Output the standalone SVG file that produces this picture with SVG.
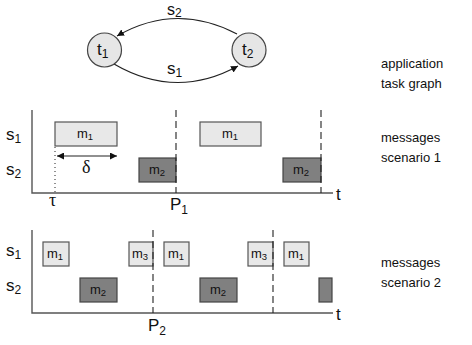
<svg xmlns="http://www.w3.org/2000/svg" width="472" height="345" viewBox="0 0 472 345">
<defs>
<style>
text{font-family:"Liberation Sans",Arial,sans-serif;fill:#111}
.lbl{font-size:17px}
.sub{font-size:12px}
.box{font-size:13px}
.bsub{font-size:9.5px}
.side{font-size:13px}
.greek{font-family:"Liberation Serif","DejaVu Serif",serif;font-size:18px}
.node{fill:#e6e6e6;stroke:#444;stroke-width:1.2}
.light{fill:#e8e8e8;stroke:#555;stroke-width:1.2}
.dark{fill:#808080;stroke:#444;stroke-width:1.2}
.axis{stroke:#555;stroke-width:1.4;fill:none}
.dash{stroke:#222;stroke-width:1.1;stroke-dasharray:7,4;fill:none}
.edge{stroke:#222;stroke-width:1.2;fill:none}
</style>
<marker id="ah" viewBox="0 0 10 10" refX="10" refY="5" markerWidth="7" markerHeight="7" markerUnits="userSpaceOnUse" orient="auto-start-reverse">
<path d="M0,0 L10,5 L0,10 z" fill="#111"/>
</marker>
</defs>

<g id="connectors">
<path class="edge" d="M237 34 Q176 2 117 36" marker-end="url(#ah)"/>
<path class="edge" d="M114 64 Q176 100 238 66" marker-end="url(#ah)"/>
<text x="167" y="15" style="font-size:16px">s<tspan class="sub" dy="2">2</tspan></text>
<text class="lbl" x="167" y="74">s<tspan class="sub" dy="3">1</tspan></text>
</g>

<g id="t1">
<circle class="node" cx="104.5" cy="50" r="17"/>
<text class="lbl" x="97" y="55">t<tspan class="sub" dy="3">1</tspan></text>
</g>
<g id="t2">
<circle class="node" cx="249" cy="50" r="17"/>
<text class="lbl" x="242" y="55">t<tspan class="sub" dy="3">2</tspan></text>
</g>

<g id="side-labels">
<text class="side" x="381" y="68">application</text>
<text class="side" x="381" y="88">task graph</text>
<text class="side" x="381" y="142">messages</text>
<text class="side" x="381" y="162">scenario 1</text>
<text class="side" x="381" y="267">messages</text>
<text class="side" x="381" y="287">scenario 2</text>
</g>

<g id="scenario1">
<path class="axis" d="M32 110 V193 H333"/>
<text class="lbl" x="336" y="200">t</text>
<text class="lbl" x="6" y="140">s<tspan class="sub" dy="3">1</tspan></text>
<text class="lbl" x="6" y="175">s<tspan class="sub" dy="3">2</tspan></text>
<rect class="light" x="55" y="122" width="62" height="24"/>
<text class="box" x="77" y="138">m<tspan class="bsub" dy="2">1</tspan></text>
<rect class="dark" x="139" y="158" width="37" height="24"/>
<text class="box" x="149" y="174">m<tspan class="bsub" dy="2">2</tspan></text>
<rect class="light" x="200" y="122" width="61" height="24"/>
<text class="box" x="222" y="138">m<tspan class="bsub" dy="2">1</tspan></text>
<rect class="dark" x="283" y="158" width="38" height="24"/>
<text class="box" x="293" y="174">m<tspan class="bsub" dy="2">2</tspan></text>
<path class="dash" d="M176 110 V193 M321 110 V193"/>
<path d="M55 147 V193" stroke="#222" stroke-width="1" stroke-dasharray="1,3"/>
<path class="edge" d="M57 156 H117" marker-start="url(#ah)" marker-end="url(#ah)"/>
<text class="greek" x="82" y="173">δ</text>
<text class="greek" x="49" y="206">τ</text>
<text class="lbl" x="170" y="210">P<tspan class="sub" dy="4">1</tspan></text>
</g>

<g id="scenario2">
<path class="axis" d="M32 230 V313 H333"/>
<text class="lbl" x="336" y="320">t</text>
<text class="lbl" x="6" y="256">s<tspan class="sub" dy="3">1</tspan></text>
<text class="lbl" x="6" y="291">s<tspan class="sub" dy="3">2</tspan></text>
<rect class="light" x="43" y="242" width="26" height="24"/>
<text class="box" x="47" y="258">m<tspan class="bsub" dy="2">1</tspan></text>
<rect class="light" x="129" y="242" width="24" height="24"/>
<text class="box" x="132" y="258">m<tspan class="bsub" dy="2">3</tspan></text>
<rect class="light" x="164" y="242" width="25" height="24"/>
<text class="box" x="168" y="258">m<tspan class="bsub" dy="2">1</tspan></text>
<rect class="light" x="248" y="242" width="25" height="24"/>
<text class="box" x="251" y="258">m<tspan class="bsub" dy="2">3</tspan></text>
<rect class="light" x="284" y="242" width="25" height="24"/>
<text class="box" x="288" y="258">m<tspan class="bsub" dy="2">1</tspan></text>
<rect class="dark" x="80" y="278" width="37" height="24"/>
<text class="box" x="90" y="294">m<tspan class="bsub" dy="2">2</tspan></text>
<rect class="dark" x="200" y="278" width="37" height="24"/>
<text class="box" x="210" y="294">m<tspan class="bsub" dy="2">2</tspan></text>
<rect class="dark" x="319" y="278" width="13" height="24"/>
<path class="dash" d="M153 230 V313 M273 230 V313"/>
<text class="lbl" x="148" y="331">P<tspan class="sub" dy="4">2</tspan></text>
</g>
</svg>
